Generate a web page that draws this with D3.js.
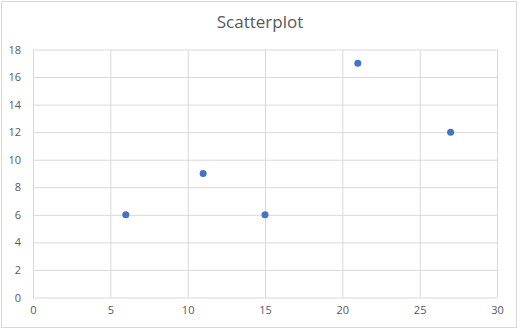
<!DOCTYPE html>
<html>
<head>
<meta charset="utf-8">
<script src="https://cdn.jsdelivr.net/npm/d3@7"></script>
<style>
  html, body { margin: 0; padding: 0; background: #fff; }
  svg { display: block; }
</style>
</head>
<body>
<svg id="chart" width="522" height="333"></svg>
<script>
// Scatterplot data
const xValues = [6, 11, 15, 21, 27];
const yValues = [6, 9, 6, 17, 12];
const xTicks = [0, 5, 10, 15, 20, 25, 30];
const yTicks = [0, 2, 4, 6, 8, 10, 12, 14, 16, 18];

const W = 522, H = 333;
const MARGIN = { top: 49.5, right: 25, bottom: 35.5, left: 33 };
const FONT = 'Open Sans, Liberation Sans, sans-serif';
const TEXT_COLOR = '#595959';
const GRID_COLOR = '#d9d9d9';

const svg = d3.select('#chart');

// chart frame
svg.append('rect')
  .attr('x', 1.5).attr('y', 1.5)
  .attr('width', 515).attr('height', 326)
  .attr('fill', '#fff')
  .attr('stroke', '#d9d9d9');

const x = d3.scaleLinear().domain([0, 30]).range([MARGIN.left, W - MARGIN.right]);
const y = d3.scaleLinear().domain([0, 18]).range([H - MARGIN.bottom, MARGIN.top]);

// title
svg.append('text')
  .attr('x', 260).attr('y', 28)
  .attr('text-anchor', 'middle')
  .attr('font-family', FONT)
  .attr('font-size', '17px')
  .attr('fill', TEXT_COLOR)
  .text('Scatterplot');

// gridlines via axes
const yGrid = svg.append('g')
  .attr('transform', `translate(${MARGIN.left},0)`)
  .call(d3.axisLeft(y).tickValues(yTicks).tickSize(-(W - MARGIN.left - MARGIN.right)).tickFormat(d3.format('d')).tickPadding(12));

const xGrid = svg.append('g')
  .attr('transform', `translate(0,${H - MARGIN.bottom})`)
  .call(d3.axisBottom(x).tickValues(xTicks).tickSize(-(H - MARGIN.top - MARGIN.bottom)).tickFormat(d3.format('d')).tickPadding(9));

[yGrid, xGrid].forEach(ax => {
  ax.select('.domain').remove();
  ax.selectAll('line').attr('stroke', GRID_COLOR).attr('stroke-width', 1);
  ax.selectAll('text')
    .attr('fill', TEXT_COLOR)
    .attr('font-family', FONT)
    .attr('font-size', '11px');
});

// points
svg.append('g')
  .selectAll('circle')
  .data(xValues.map((v, i) => ({ x: v, y: yValues[i] })))
  .join('circle')
  .attr('cx', d => x(d.x))
  .attr('cy', d => y(d.y))
  .attr('r', 3.5)
  .attr('fill', '#4472c4');
</script>
</body>
</html>
